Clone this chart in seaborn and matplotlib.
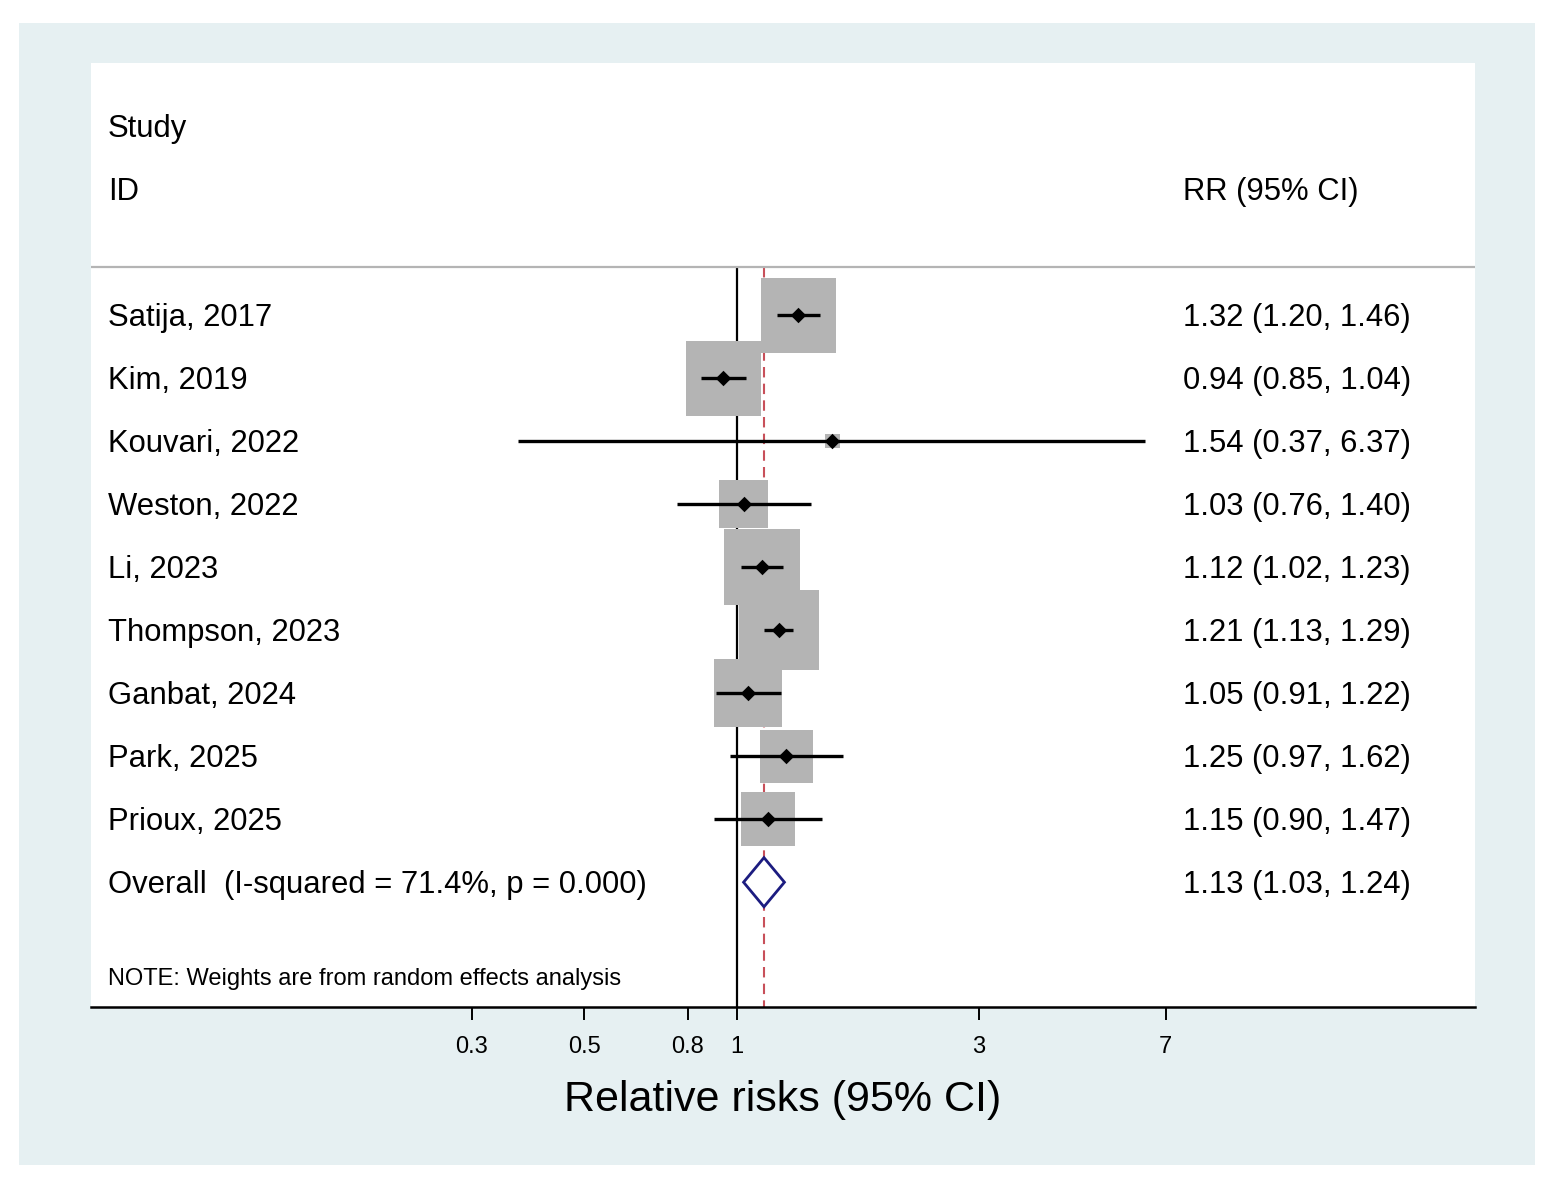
"""
plot.py - Forest plot of relative risks (random effects meta-analysis).
"""

import numpy as np
import pandas as pd
import seaborn as sns
import matplotlib.pyplot as plt
from matplotlib.patches import Rectangle, Polygon
from matplotlib.transforms import blended_transform_factory

#####################################
# Data
#####################################

studies = ["Satija, 2017", "Kim, 2019", "Kouvari, 2022", "Weston, 2022",
           "Li, 2023", "Thompson, 2023", "Ganbat, 2024", "Park, 2025",
           "Prioux, 2025"]
rr = [1.32, 0.94, 1.54, 1.03, 1.12, 1.21, 1.05, 1.25, 1.15]
ci_low = [1.20, 0.85, 0.37, 0.76, 1.02, 1.13, 0.91, 0.97, 0.90]
ci_high = [1.46, 1.04, 6.37, 1.40, 1.23, 1.29, 1.22, 1.62, 1.47]
weights = [15.5, 15.5, 0.6, 6.4, 15.9, 17.6, 12.7, 7.7, 8.1]

overall_label = "Overall  (I-squared = 71.4%, p = 0.000)"
overall_rr = 1.13
overall_low = 1.03
overall_high = 1.24

tick_values = [0.3, 0.5, 0.8, 1, 3, 7]
tick_labels = ["0.3", "0.5", "0.8", "1", "3", "7"]

#####################################
# Plot
#####################################


def main() -> None:
    sns.set_theme(style="white")
    plt.rcParams["font.family"] = ["Liberation Sans", "DejaVu Sans"]
    plt.rcParams["text.color"] = "black"
    plt.rcParams["axes.labelcolor"] = "black"
    plt.rcParams["xtick.color"] = "black"

    df = pd.DataFrame({"study": studies, "rr": rr, "lo": ci_low,
                       "hi": ci_high, "w": weights})
    df["row"] = np.arange(1, len(df) + 1)
    overall_row = len(df) + 1

    fig = plt.figure(figsize=(15.57, 11.85), dpi=100, facecolor="white")
    fig.patches.append(Rectangle((19 / 1557, 1 - 1165 / 1185), 1516 / 1557,
                                 1142 / 1185, transform=fig.transFigure,
                                 facecolor="#e6f0f2", edgecolor="none",
                                 zorder=-10))
    ax = fig.add_axes([91 / 1557, 1 - 1007 / 1185, 1384 / 1557, 944 / 1185])
    ax.set_zorder(5)
    ax.set_facecolor("white")
    ax.set_xscale("log")
    ax.set_xlim(0.05325, 28.5)
    ax.set_ylim(11.98, -3.0)

    top_line = 0.24
    # reference lines
    ax.vlines(1, top_line, 11.98, color="black", lw=1.6, zorder=2)
    ax.vlines(overall_rr, top_line, 11.98, color="#c8505a", lw=1.5,
              linestyles=(0, (5, 3)), zorder=2)
    ax.axhline(top_line, color="#b4b4b4", lw=1.6, zorder=2)

    # weight boxes (side proportional to sqrt(weight))
    side_pt = 19.07 * np.sqrt(df["w"]) * 0.72
    sns.scatterplot(data=df, x="rr", y="row", marker="s", s=side_pt ** 2,
                    color="#b4b4b4", linewidth=0, ax=ax, zorder=3,
                    legend=False)
    # confidence intervals
    ax.hlines(df["row"], df["lo"], df["hi"], color="black", lw=2.4, zorder=4)
    sns.scatterplot(data=df, x="rr", y="row", marker="D", s=62,
                    color="black", linewidth=0, ax=ax, zorder=5,
                    legend=False)

    # overall diamond
    half_h = 0.39
    diamond = Polygon([(overall_low, overall_row), (overall_rr, overall_row - half_h),
                       (overall_high, overall_row), (overall_rr, overall_row + half_h)],
                      closed=True, facecolor="white", edgecolor="#1c1c80",
                      lw=2.0, zorder=5)
    ax.add_patch(diamond)

    # text columns
    trans = blended_transform_factory(ax.transAxes, ax.transData)
    left_x = 0.0123
    right_x = 0.789
    dy = 0.05
    fs = 22.3
    ax.text(left_x, -2.0 + dy, "Study", transform=trans, fontsize=fs,
            va="center")
    ax.text(left_x, -1.0 + dy, "ID", transform=trans, fontsize=fs,
            va="center")
    ax.text(right_x, -1.0 + dy, "RR (95% CI)", transform=trans, fontsize=fs,
            va="center")
    for _, r in df.iterrows():
        ax.text(left_x, r["row"] + dy, r["study"], transform=trans,
                fontsize=fs, va="center")
        ax.text(right_x, r["row"] + dy,
                f"{r['rr']:.2f} ({r['lo']:.2f}, {r['hi']:.2f})",
                transform=trans, fontsize=fs, va="center")
    ax.text(left_x, overall_row + dy, overall_label, transform=trans,
            fontsize=fs, va="center")
    ax.text(right_x, overall_row + dy,
            f"{overall_rr:.2f} ({overall_low:.2f}, {overall_high:.2f})",
            transform=trans, fontsize=fs, va="center")
    ax.text(left_x, 11.49 + dy, "NOTE: Weights are from random effects analysis",
            transform=trans, fontsize=17, va="center")

    # axes styling
    for side in ["top", "left", "right"]:
        ax.spines[side].set_visible(False)
    ax.spines["bottom"].set_color("black")
    ax.spines["bottom"].set_linewidth(1.8)
    ax.set_yticks([])
    ax.set_xticks(tick_values)
    ax.set_xticklabels(tick_labels, fontsize=17,
                       family=["Liberation Sans Narrow", "Liberation Sans"])
    ax.minorticks_off()
    ax.tick_params(axis="x", which="major", direction="out", length=9,
                   width=1.4, color="black", pad=12, bottom=True)
    ax.set_xlabel("Relative risks (95% CI)", fontsize=31, labelpad=16)
    ax.set_ylabel("")

    fig.savefig("out.png", dpi=100, facecolor="white")


if __name__ == "__main__":
    main()
